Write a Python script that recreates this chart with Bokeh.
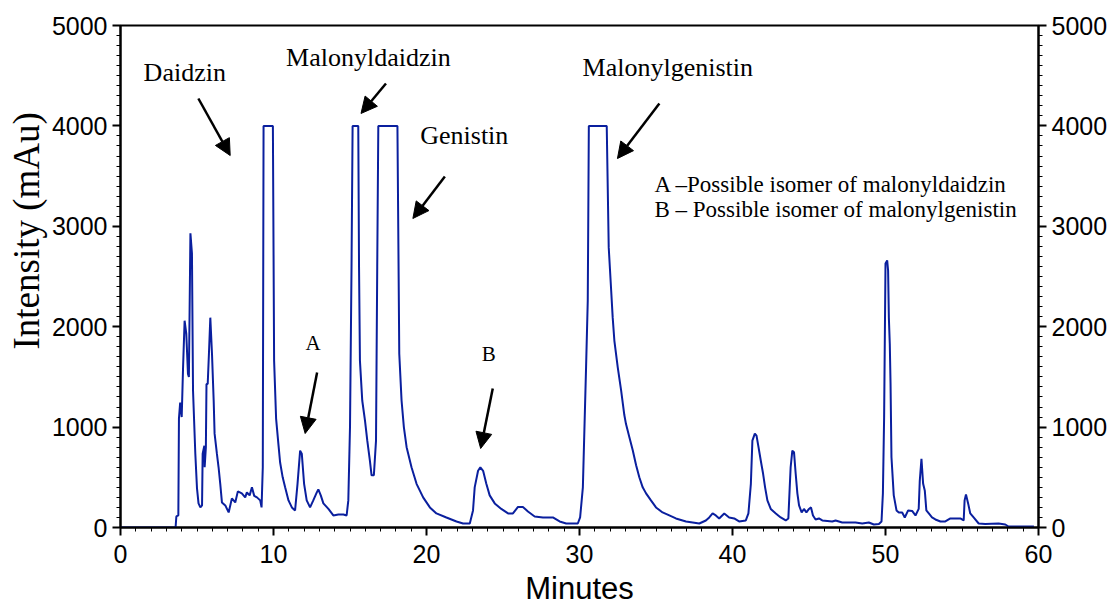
from bokeh.plotting import figure
from bokeh.models import (Range1d, LinearAxis, SingleIntervalTicker, Label, Arrow, NormalHead, Title)
from bokeh.embed import file_html
from bokeh.resources import INLINE

# ---- data ----
minutes = [0.0, 3.6, 3.65, 3.78, 3.82, 3.9, 4.0, 4.09, 4.19, 4.3, 4.41, 4.47, 4.57, 4.67, 4.74,
           4.89, 5.0, 5.1, 5.22, 5.33, 5.37, 5.48, 5.5, 5.58, 5.62, 5.7, 5.78, 5.87, 5.98, 6.09,
           6.15, 6.3, 6.41, 6.52, 6.63, 6.85, 7.07, 7.28, 7.5, 7.67, 7.93, 8.15, 8.26, 8.44, 8.59,
           8.74, 8.92, 9.13, 9.22, 9.3, 9.35, 9.96, 10.04, 10.17, 10.33, 10.43, 10.6, 10.76, 10.98,
           11.2, 11.41, 11.57, 11.74, 11.85, 12.0, 12.17, 12.39, 12.6, 12.83, 12.93, 13.09, 13.26,
           13.59, 13.91, 14.24, 14.57, 14.78, 14.89, 15.0, 15.1, 15.17, 15.54, 15.59, 15.65, 15.8,
           15.98, 16.13, 16.3, 16.41, 16.56, 16.7, 16.78, 16.85, 18.1, 18.22, 18.37, 18.52, 18.7,
           19.02, 19.35, 19.78, 20.22, 20.65, 21.3, 21.96, 22.39, 22.83, 23.04, 23.15, 23.37, 23.52,
           23.7, 23.91, 24.13, 24.46, 24.89, 25.33, 25.65, 25.98, 26.3, 26.63, 27.07, 27.61, 28.26,
           28.7, 29.13, 29.57, 29.89, 30.04, 30.22, 30.43, 30.54, 30.61, 31.78, 31.91, 32.07, 32.17,
           32.28, 32.5, 32.72, 32.93, 33.04, 33.26, 33.48, 33.7, 33.91, 34.13, 34.35, 34.67, 35.0,
           35.43, 35.87, 36.3, 36.96, 37.83, 38.26, 38.48, 38.7, 38.91, 39.13, 39.46, 39.78, 40.11,
           40.43, 40.87, 41.04, 41.2, 41.3, 41.46, 41.57, 41.7, 41.85, 42.0, 42.13, 42.28, 42.5,
           42.83, 43.15, 43.48, 43.65, 43.74, 43.8, 43.91, 44.02, 44.13, 44.24, 44.35, 44.52, 44.67,
           44.83, 45.0, 45.13, 45.26, 45.43, 45.65, 45.87, 46.52, 46.74, 47.17, 48.04, 48.48, 48.91,
           49.24, 49.57, 49.74, 49.83, 49.91, 50.0, 50.11, 50.17, 50.22, 50.28, 50.33, 50.39, 50.54,
           50.72, 50.87, 51.09, 51.26, 51.48, 51.74, 51.96, 52.17, 52.24, 52.35, 52.46, 52.57, 52.67,
           52.83, 53.04, 53.26, 53.59, 53.91, 54.24, 54.57, 54.89, 55.11, 55.17, 55.26, 55.4, 55.54,
           55.76, 56.09, 56.52, 57.39, 57.83, 58.04, 59.7]
intensity = [0, 0, 110, 120, 1085, 1245, 1100, 1600, 2060, 1930, 1530, 1500, 2930, 2730, 1365,
             735, 390, 240, 200, 220, 735, 815, 600, 800, 1430, 1430, 1730, 2090, 1730, 1265,
             935, 735, 600, 435, 250, 220, 150, 290, 250, 360, 340, 300, 350, 320, 400,
             315, 300, 270, 200, 600, 4000, 4000, 1660, 1085, 815, 650, 500, 400, 270,
             200, 170, 435, 765, 735, 435, 270, 200, 270, 350, 380, 320, 240,
             185, 120, 130, 130, 120, 270, 1000, 2600, 4000, 4000, 2600, 1660, 1265,
             1065, 865, 665, 520, 520, 865, 2600, 4000, 4000, 1730, 1265, 1000, 800,
             600, 435, 300, 200, 140, 100, 60, 40, 40, 170, 400, 565, 600,
             565, 435, 320, 240, 185, 140, 140, 205, 205, 160, 110, 100, 100,
             60, 40, 40, 40, 100, 400, 1600, 2260, 4000, 4000, 2790, 2360, 2090,
             1860, 1595, 1365, 1120, 1030, 900, 770, 620, 500, 400, 340, 270, 200,
             150, 120, 90, 60, 40, 70, 100, 140, 120, 90, 140, 100, 90,
             60, 70, 140, 435, 865, 935, 915, 800, 665, 535, 400, 270, 185,
             140, 100, 70, 90, 400, 600, 765, 750, 535, 340, 220, 150, 185,
             150, 185, 200, 120, 80, 90, 70, 60, 70, 50, 50, 40, 50,
             30, 35, 60, 340, 1100, 2630, 2660, 2560, 2090, 1830, 1430, 700, 320,
             170, 150, 150, 100, 170, 165, 120, 185, 465, 685, 435, 365, 170,
             140, 100, 80, 60, 60, 90, 90, 90, 70, 270, 330, 240, 140,
             100, 40, 35, 40, 30, 10, 10]

x_major_ticks = [0, 10, 20, 30, 40, 50, 60]
y_major_ticks = [0, 1000, 2000, 3000, 4000, 5000]

peak_names = ["Daidzin", "Malonyldaidzin", "Genistin", "Malonylgenistin", "A", "B"]
legend_lines = ["A \u2013Possible isomer of malonyldaidzin",
                "B \u2013 Possible isomer of malonylgenistin"]

# ---- figure ----
p = figure(width=1114, height=608, output_backend="svg", toolbar_location=None,
           x_range=Range1d(0, 60), y_range=Range1d(0, 5000),
           min_border_left=120, min_border_right=76, min_border_top=25, min_border_bottom=81)
p.background_fill_color = "white"
p.border_fill_color = "white"
p.grid.visible = False
p.outline_line_color = "black"
p.outline_line_width = 2

p.line(minutes, intensity, line_color="#0a1f9e", line_width=2)

FONT_SANS = "Liberation Sans"
FONT_SERIF = "Liberation Serif"

def style_axis(ax):
    ax.axis_line_color = "black"
    ax.axis_line_width = 2
    ax.major_tick_line_color = "black"
    ax.major_tick_line_width = 2
    ax.minor_tick_line_color = "black"
    ax.minor_tick_line_width = 1
    ax.major_tick_out = 8
    ax.major_tick_in = 0
    ax.minor_tick_out = 4
    ax.minor_tick_in = 0
    ax.major_label_text_font = FONT_SANS
    ax.major_label_text_font_size = "25px"
    ax.major_label_text_color = "black"
    ax.major_label_standoff = 5

xax = p.xaxis[0]
xax.ticker = SingleIntervalTicker(interval=10, num_minor_ticks=10)
style_axis(xax)
xax.major_label_standoff = 9
xax.axis_label = "Minutes"
xax.axis_label_text_font = FONT_SANS
xax.axis_label_text_font_size = "31px"
xax.axis_label_text_font_style = "normal"
xax.axis_label_text_color = "black"
xax.axis_label_standoff = 5

yax = p.yaxis[0]
yax.ticker = SingleIntervalTicker(interval=1000, num_minor_ticks=10)
style_axis(yax)

yr = LinearAxis(ticker=SingleIntervalTicker(interval=1000, num_minor_ticks=10))
style_axis(yr)
p.add_layout(yr, "right")

# y axis title, set off-centre (towards the top) as in the reference
p.add_layout(Title(text="Intensity (mAu)", align="left", offset=178, standoff=4,
                   text_font=FONT_SERIF, text_font_size="37px", text_font_style="normal",
                   text_color="black"), "left")

# peak labels
label_pos = [(4.2, 4532, "26px"), (16.2, 4681, "26px"),
             (22.47, 3904, "26px"), (35.77, 4582, "26px"),
             (12.59, 1833, "21px"), (24.07, 1733, "21px")]
for name, (lx, ly, fs) in zip(peak_names, label_pos):
    p.add_layout(Label(x=lx, y=ly, text=name, text_align="center", text_baseline="middle",
                       text_font=FONT_SERIF, text_font_size=fs, text_color="black"))

legend_pos = [(34.9, 3416), (34.9, 3167)]
for txt, (lx, ly) in zip(legend_lines, legend_pos):
    p.add_layout(Label(x=lx, y=ly, text=txt, text_align="left", text_baseline="middle",
                       text_font=FONT_SERIF, text_font_size="23px", text_color="black"))

# arrows
arrows = [(5.09, 4273, 7.17, 3705), (17.35, 4422, 15.72, 4124), (21.2, 3496, 19.11, 3078),
          (35.22, 4223, 32.48, 3675), (12.85, 1544, 12.07, 936), (24.33, 1384, 23.54, 787)]
for xs, ys, xe, ye in arrows:
    p.add_layout(Arrow(end=NormalHead(size=16, fill_color="black", line_color="black"),
                       x_start=xs, y_start=ys, x_end=xe, y_end=ye,
                       line_color="black", line_width=2.5))

open("out.html", "w").write(file_html(p, INLINE))
